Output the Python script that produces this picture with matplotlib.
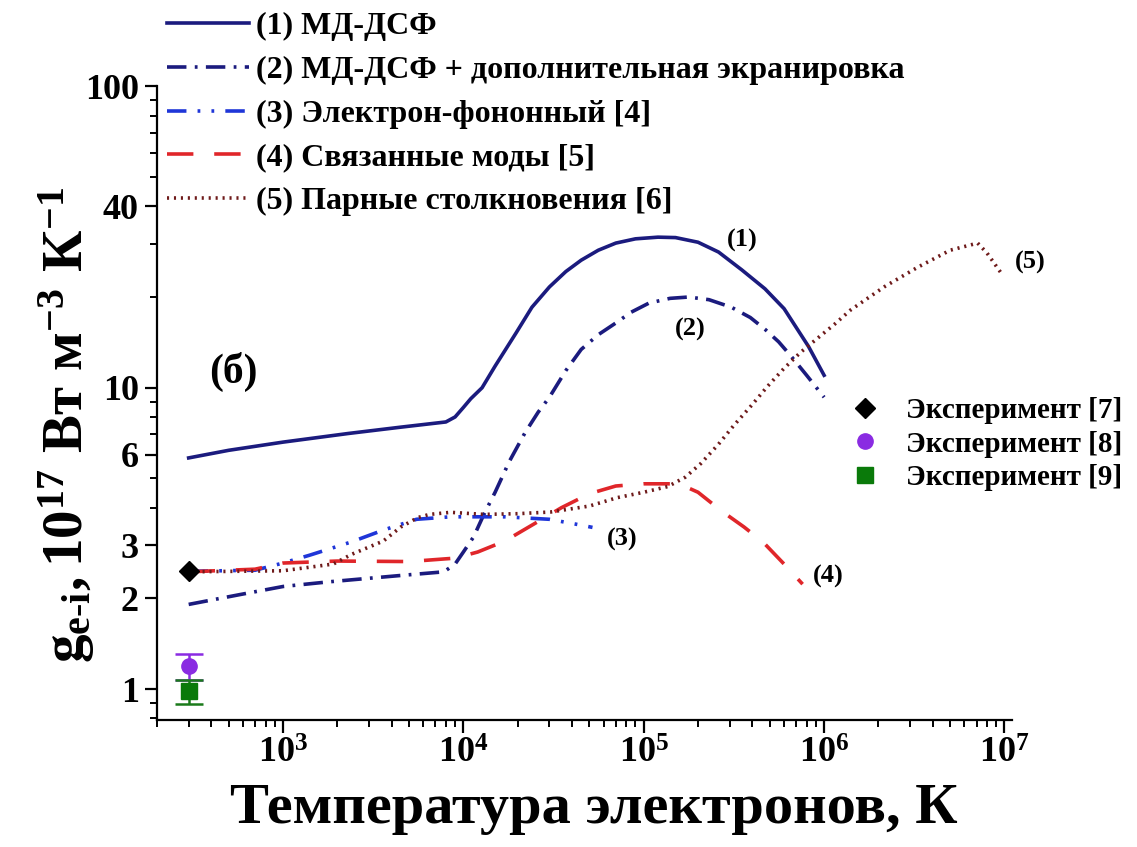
import matplotlib
matplotlib.use('Agg')
import matplotlib.pyplot as plt
from matplotlib.ticker import FixedLocator, FixedFormatter, LogLocator, NullFormatter

plt.rcParams['font.family'] = ['Liberation Serif', 'DejaVu Serif']
plt.rcParams['font.weight'] = 'bold'
plt.rcParams['mathtext.fontset'] = 'custom'
plt.rcParams['mathtext.rm'] = 'Liberation Serif:bold'
plt.rcParams['mathtext.it'] = 'Liberation Serif:bold'
plt.rcParams['mathtext.bf'] = 'Liberation Serif:bold'
plt.rcParams['lines.scale_dashes'] = False

# (1) МД-ДСФ
T1 = [300, 500, 1000, 2300, 4500, 8000, 9000, 10000, 11000, 12700, 15000,
      19600, 24000, 30000, 37000, 45000, 56000, 70000, 90000, 120000,
      150000, 200000, 260000, 350000, 470000, 600000, 820000, 1000000]
g1 = [5.85, 6.2, 6.6, 7.05, 7.4, 7.7, 8.0, 8.6, 9.2, 10.0, 11.8,
      15.2, 18.5, 21.6, 24.3, 26.5, 28.6, 30.2, 31.2, 31.6,
      31.5, 30.4, 28.2, 24.6, 21.3, 18.3, 13.7, 11.0]

# (2) МД-ДСФ + дополнительная экранировка
T2 = [300, 580, 1000, 1800, 4400, 7800, 9000, 10000, 11400, 13000, 15000,
      18000, 22000, 26000, 30000, 37000, 45000, 56000, 70000, 85000,
      107000, 140000, 177000, 230000, 306000, 390000, 472000, 560000,
      658000, 800000, 1000000]
g2 = [1.91, 2.06, 2.19, 2.27, 2.38, 2.45, 2.6, 2.85, 3.2, 3.8, 4.5,
      5.7, 7.1, 8.3, 9.3, 11.4, 13.4, 15.0, 16.4, 17.8,
      19.1, 19.8, 20.0, 19.6, 18.5, 17.1, 15.6, 14.2,
      12.7, 11.0, 9.3]

# (3) электрон-фононный
T3 = [300, 700, 1000, 1400, 2400, 3600, 5500, 8500, 17000, 30000, 45000, 52000]
g3 = [2.46, 2.48, 2.62, 2.78, 3.08, 3.37, 3.66, 3.73, 3.73, 3.66, 3.5, 3.44]

# (4) связанные моды
T4 = [300, 700, 1000, 2000, 5000, 9000, 12000, 17000, 25000, 35000, 50000,
      70000, 100000, 140000, 170000, 200000, 270000, 360000, 460000,
      600000, 760000]
g4 = [2.45, 2.5, 2.62, 2.66, 2.65, 2.72, 2.85, 3.1, 3.55, 4.0, 4.45,
      4.72, 4.8, 4.8, 4.7, 4.5, 3.9, 3.45, 3.07, 2.6, 2.23]

# (5) парные столкновения
T5 = [300, 1000, 1900, 2400, 3600, 4500, 5600, 6500, 8500, 13000, 20000,
      30500, 50000, 71500, 100000, 136000, 170000, 207000, 260000, 316000,
      400000, 485000, 600000, 740000, 920000, 1150000, 1400000, 2150000,
      3300000, 5000000, 7100000, 8000000, 9500000]
g5 = [2.45, 2.47, 2.6, 2.8, 3.1, 3.45, 3.71, 3.8, 3.86, 3.8, 3.82,
      3.87, 4.05, 4.32, 4.5, 4.7, 5.05, 5.6, 6.5, 7.5,
      8.8, 10.1, 11.6, 13.1, 14.6, 16.3, 18.1, 21.6,
      25.1, 28.6, 30.2, 28.0, 24.2]

# эксперимент
T_exp = 300
g7 = 2.46
g8, err8 = 1.19, 0.12
g9, err9 = 0.985, 0.09

yticks = [1, 2, 3, 6, 10, 40, 100]

navy = '#1b1b7e'
fig = plt.figure(figsize=(11.37, 8.47), dpi=100)
ax = fig.add_axes([0.138, 0.150, 0.752, 0.748])

l1, = ax.plot(T1, g1, color=navy, lw=2.6, label='(1) МД-ДСФ')
l2, = ax.plot(T2, g2, color=navy, lw=2.6, ls=(0, (14, 6, 2, 6)),
              label='(2) МД-ДСФ + дополнительная экранировка')
l3, = ax.plot(T3, g3, color='#1f36d8', lw=2.6, ls=(0, (14, 8, 2, 8, 2, 8)),
              label='(3) Электрон-фононный [4]')
l4, = ax.plot(T4, g4, color='#e0262a', lw=2.6, ls=(0, (19, 15)),
              label='(4) Связанные моды [5]')
l5, = ax.plot(T5, g5, color='#6e1a1a', lw=2.6, ls=(0, (1.5, 3.5)),
              label='(5) Парные столкновения [6]')

ax.errorbar([T_exp], [g8], yerr=[err8], fmt='none', ecolor='#8a2be2',
            elinewidth=1.8, capsize=10, capthick=1.8)
ax.errorbar([T_exp], [g9], yerr=[err9], fmt='none', ecolor='#1a7a1a',
            elinewidth=1.8, capsize=10, capthick=1.8)
p7, = ax.plot([T_exp], [g7], ls='none', marker='D', ms=10, color='black',
              label='Эксперимент [7]')
p8, = ax.plot([T_exp], [g8], ls='none', marker='o', ms=11, color='#8a2be2',
              label='Эксперимент [8]')
p9, = ax.plot([T_exp], [g9], ls='none', marker='s', ms=11, color='#0a7a0a',
              label='Эксперимент [9]')

ax.set_xscale('log')
ax.set_yscale('log')
ax.set_xlim(200, 1.1e7)
ax.set_ylim(0.79, 100)

ax.xaxis.set_minor_locator(LogLocator(base=10, subs=range(2, 10)))
ax.xaxis.set_minor_formatter(NullFormatter())
ax.set_xticks([1e3, 1e4, 1e5, 1e6, 1e7])
ax.set_xticklabels([r'$\mathbf{10^{%d}}$' % k for k in range(3, 8)])

ax.yaxis.set_major_locator(FixedLocator(yticks))
ax.yaxis.set_major_formatter(FixedFormatter([str(v) for v in yticks]))
minor_y = [v * 10 ** d for d in (-1, 0, 1) for v in range(1, 10)
           if v * 10 ** d not in yticks]
ax.yaxis.set_minor_locator(FixedLocator(minor_y))
ax.yaxis.set_minor_formatter(NullFormatter())

ax.tick_params(which='major', direction='out', length=9, width=1.6, pad=4)
ax.tick_params(axis='x', which='major', labelsize=26)
ax.tick_params(axis='y', which='major', labelsize=26)
ax.tick_params(which='minor', direction='out', length=5, width=1.4)
ax.spines['top'].set_visible(False)
ax.spines['right'].set_visible(False)
ax.spines['left'].set_linewidth(1.6)
ax.spines['bottom'].set_linewidth(1.6)

ax.set_xlabel('Температура электронов, К', fontsize=42, fontweight='bold')
ax.xaxis.set_label_coords(0.511, -0.1)
ax.set_ylabel(r'$\mathbf{g_{e\text{-}i}, 10^{17}\ Вт\ м^{-3}\ К^{-1}}$',
              fontsize=41)
ax.yaxis.set_label_coords(-0.07, 0.465)

ax.text(353000, 30.9, '(1)', fontsize=19, ha='center', va='center')
ax.text(182000, 15.6, '(2)', fontsize=19, ha='center', va='center')
ax.text(75500, 3.14, '(3)', fontsize=19, ha='center', va='center')
ax.text(1.06e6, 2.37, '(4)', fontsize=19, ha='center', va='center')
ax.text(1.39e7, 26.1, '(5)', fontsize=19, ha='center', va='center',
        clip_on=False)
ax.text(528, 11.3, '(б)', fontsize=30, ha='center', va='center')

fig.legend(handles=[l1, l2, l3, l4, l5], loc='upper left',
           bbox_to_anchor=(0.147, 0.986), frameon=False, fontsize=23,
           handlelength=2.55, handletextpad=0.22, labelspacing=0.45,
           borderpad=0, borderaxespad=0)
fig.legend(handles=[p7, p8, p9], loc='upper left',
           bbox_to_anchor=(0.7485, 0.531), frameon=False, fontsize=21,
           handlelength=0.98, handletextpad=0.9, labelspacing=0.22,
           borderpad=0, borderaxespad=0, numpoints=1)

fig.savefig('out.png', dpi=100)
